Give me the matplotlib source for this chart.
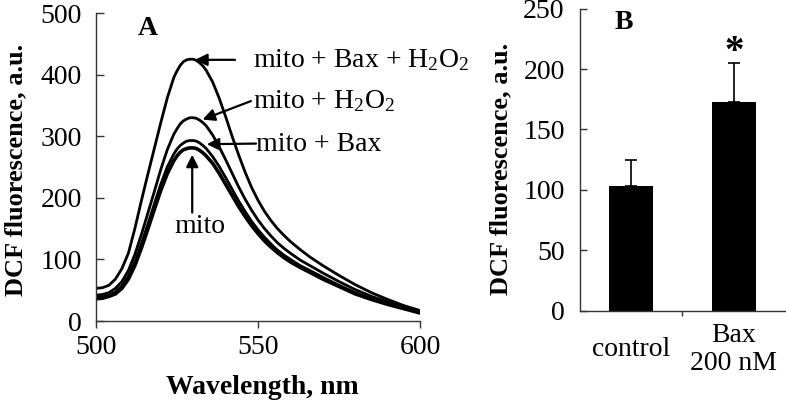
import matplotlib
matplotlib.use("Agg")
import matplotlib.pyplot as plt

plt.rcParams['font.family'] = ['Liberation Serif', 'DejaVu Serif']
plt.rcParams['mathtext.fontset'] = 'custom'
plt.rcParams['mathtext.rm'] = 'Liberation Serif'
plt.rcParams['mathtext.it'] = 'Liberation Serif:italic'
plt.rcParams['mathtext.bf'] = 'Liberation Serif:bold'

# panel A: DCF emission spectra
wavelength = [500, 502, 504, 506, 508, 510, 512, 514, 516, 518,
              520, 522, 524, 525, 526, 527, 528, 529, 530, 531,
              532, 533, 534, 536, 538, 540, 542, 544, 546, 548,
              550, 552, 554, 556, 558, 560, 563, 566, 570, 575,
              580, 585, 590, 595, 600]
mito_bax_h2o2 = [53, 54, 58, 68, 85, 110, 150, 195, 238, 280,
                 322, 362, 395, 406, 415, 421, 424, 425, 425, 423,
                 419, 414, 407, 388, 362, 332, 300, 270, 242, 217,
                 196, 178, 163, 150, 139, 129, 116, 104, 90, 74,
                 59, 46, 35, 25, 17]
mito_h2o2 = [42, 43, 46, 53, 64, 82, 108, 140, 175, 210,
             246, 278, 303, 312, 320, 325, 328, 330, 330, 329,
             326, 322, 317, 302, 283, 262, 240, 218, 198, 180,
             164, 150, 138, 127, 118, 110, 99, 90, 78, 64,
             51, 40, 31, 23, 16]
mito_bax = [38, 39, 42, 47, 57, 73, 96, 125, 157, 190,
            222, 250, 271, 279, 285, 289, 292, 293, 293, 292,
            289, 285, 280, 267, 251, 233, 214, 195, 178, 162,
            148, 136, 125, 115, 107, 100, 90, 82, 71, 58,
            46, 36, 28, 21, 14]
mito = [36, 37, 40, 44, 53, 68, 90, 118, 149, 181,
        212, 239, 260, 268, 274, 278, 280, 281, 281, 280,
        277, 273, 268, 256, 240, 222, 204, 186, 170, 155,
        142, 130, 120, 111, 103, 96, 87, 79, 68, 56,
        44, 35, 27, 20, 13]

# panel B: bar chart
categories = ['control', 'Bax\n200 nM']
bar_values = [103, 173]
bar_errors = [22, 32]

fs = 20
fig = plt.figure(figsize=(7.86, 4.05), dpi=100)

# ---- panel A
axA = fig.add_axes([0.1221, 0.2074, 0.4123, 0.7605])
for series, lw in [(mito_bax_h2o2, 2.0), (mito_h2o2, 2.0), (mito_bax, 2.0), (mito, 2.6)]:
    axA.plot(wavelength, series, color='black', lw=lw,
             solid_capstyle='round', solid_joinstyle='round')

axA.set_xlim(500, 600)
axA.set_ylim(0, 500)
axA.set_xticks([500, 550, 600])
axA.set_yticks([0, 100, 200, 300, 400, 500])
axA.spines['top'].set_visible(False)
axA.spines['right'].set_visible(False)
for s in ['left', 'bottom']:
    axA.spines[s].set_color('#333333')
    axA.spines[s].set_linewidth(1.0)
axA.tick_params(axis='y', direction='in', length=6, width=1, pad=10, labelsize=fs, colors='#333333', labelcolor='black')
axA.tick_params(axis='x', direction='out', length=5, width=1, pad=5, labelsize=fs, colors='#333333', labelcolor='black')
axA.set_xlabel('Wavelength, nm', fontsize=fs, fontweight='bold')
axA.xaxis.set_label_coords(0.512, -0.175)
axA.set_ylabel('DCF fluorescence, a.u.', fontsize=19, fontweight='bold')
axA.yaxis.set_label_coords(-0.213, 0.49)
axA.text(0.16, 0.95, 'A', transform=axA.transAxes, fontsize=fs, fontweight='bold',
         ha='center', va='center')

arrow = dict(arrowstyle='-|>', color='black', lw=1.6, mutation_scale=18, shrinkA=0, shrinkB=0)
axA.annotate('', xy=(530.6, 424), xytext=(542.9, 424), arrowprops=arrow)
axA.text(548.5, 412, 'mito + Bax + H$_2$O$_2$', fontsize=fs, va='baseline', ha='left')
axA.annotate('', xy=(532.9, 327), xytext=(547.8, 357), arrowprops=arrow)
axA.text(548.5, 346, 'mito + H$_2$O$_2$', fontsize=fs, va='baseline', ha='left')
axA.annotate('', xy=(534.2, 287), xytext=(549.4, 288), arrowprops=arrow)
axA.text(549.4, 276, 'mito + Bax', fontsize=fs, va='baseline', ha='left')
axA.annotate('', xy=(529.7, 270), xytext=(529.7, 176), arrowprops=arrow)
axA.text(532.0, 143, 'mito', fontsize=fs, va='baseline', ha='center')

# ---- panel B
axB = fig.add_axes([0.7379, 0.2328, 0.2608, 0.746])
xpos = list(range(len(categories)))
axB.bar(xpos, bar_values, width=0.43, color='black', zorder=2)
axB.errorbar(xpos, bar_values, yerr=[[0] * len(bar_errors), bar_errors], fmt='none',
             ecolor='black', elinewidth=1.2, capsize=4, capthick=1.2, zorder=1)
axB.text(xpos[1], bar_errors[1] + bar_values[1] + 1, '*', fontsize=28, fontweight='bold',
         ha='center', va='baseline')

axB.set_xlim(-0.5, 1.5)
axB.set_ylim(0, 250)
axB.set_yticks([0, 50, 100, 150, 200, 250])
axB.set_xticks(xpos)
axB.set_xticklabels(categories, va='center', linespacing=1.15)
axB.set_xticks([0.5], minor=True)
axB.spines['top'].set_visible(False)
axB.spines['right'].set_visible(False)
for s in ['left', 'bottom']:
    axB.spines[s].set_color('#333333')
    axB.spines[s].set_linewidth(1.0)
axB.tick_params(axis='y', direction='in', length=5, width=1, pad=11, labelsize=fs, colors='#333333', labelcolor='black')
axB.tick_params(axis='x', which='major', length=0, pad=28, labelsize=fs)
axB.tick_params(axis='x', which='minor', direction='out', length=3.5, width=1, colors='#333333')
axB.set_ylabel('DCF fluorescence, a.u.', fontsize=19, fontweight='bold')
axB.yaxis.set_label_coords(-0.33, 0.47)
axB.text(0.215, 0.955, 'B', transform=axB.transAxes, fontsize=fs, fontweight='bold',
         ha='center', va='center')

fig.savefig('out.png', dpi=100)
